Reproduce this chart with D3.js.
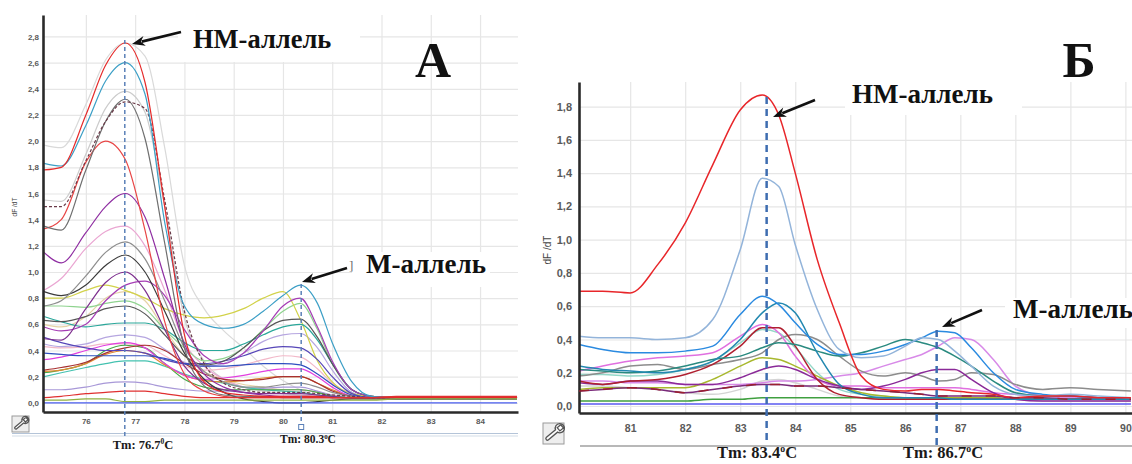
<!DOCTYPE html>
<html><head><meta charset="utf-8">
<script src="https://cdn.jsdelivr.net/npm/d3@7"></script>
<style>body{margin:0;background:#fff;} svg{display:block;}</style>
</head><body><svg id="c" width="1132" height="464"></svg>
<script>
// ---------------- DATA ----------------
// Panel A (temperature grid, °C)
const tempA = [75.15, 75.5, 76.0, 76.4, 76.8, 77.2, 77.6, 78.0, 78.4, 78.8, 79.2, 79.6, 80.0, 80.35, 80.7, 81.0, 81.4, 81.8, 82.3, 83.0, 84.0, 84.75];
const curvesA = [
  [1.97,1.95,2.28,2.62,2.75,2.65,1.95,1.05,0.72,0.55,0.42,0.28,0.17,0.10,0.06,0.05,0.04,0.04,0.03,0.03,0.04,0.04],
  [1.55,1.54,1.90,2.25,2.38,2.22,1.50,0.65,0.32,0.18,0.12,0.09,0.07,0.06,0.05,0.05,0.04,0.04,0.04,0.03,0.04,0.03],
  [0.60,0.58,0.66,0.80,0.85,0.78,0.56,0.36,0.24,0.18,0.14,0.12,0.10,0.10,0.08,0.06,0.04,0.04,0.04,0.04,0.04,0.04],
  [0.43,0.42,0.43,0.45,0.45,0.44,0.36,0.28,0.25,0.26,0.29,0.33,0.36,0.35,0.26,0.15,0.06,0.04,0.04,0.04,0.04,0.04],
  [0.86,0.95,1.18,1.31,1.35,1.20,0.86,0.46,0.28,0.18,0.12,0.10,0.10,0.10,0.08,0.06,0.05,0.04,0.04,0.04,0.04,0.04],
  [0.74,0.74,0.73,0.76,0.78,0.72,0.56,0.42,0.32,0.34,0.42,0.56,0.70,0.76,0.56,0.30,0.10,0.05,0.04,0.04,0.04,0.04],
  [0.45,0.43,0.45,0.50,0.52,0.50,0.41,0.31,0.28,0.30,0.38,0.47,0.52,0.53,0.42,0.25,0.08,0.04,0.04,0.04,0.04,0.04],
  [0.10,0.10,0.12,0.15,0.16,0.15,0.12,0.10,0.09,0.09,0.10,0.11,0.12,0.12,0.09,0.06,0.04,0.04,0.03,0.03,0.03,0.03],
  [0.80,0.80,0.86,0.90,0.86,0.80,0.72,0.67,0.65,0.67,0.72,0.80,0.85,0.64,0.32,0.16,0.07,0.05,0.04,0.04,0.04,0.04],
  [0.20,0.23,0.27,0.30,0.32,0.32,0.28,0.22,0.18,0.15,0.12,0.10,0.09,0.08,0.06,0.05,0.04,0.04,0.04,0.04,0.04,0.04],
  [0.66,0.62,0.58,0.60,0.61,0.61,0.56,0.46,0.40,0.40,0.45,0.52,0.58,0.60,0.48,0.30,0.10,0.05,0.04,0.04,0.04,0.04],
  [0.23,0.25,0.30,0.40,0.44,0.42,0.30,0.18,0.12,0.10,0.10,0.10,0.10,0.10,0.08,0.05,0.04,0.04,0.04,0.04,0.04,0.04],
  [0.24,0.25,0.30,0.37,0.40,0.38,0.29,0.21,0.17,0.16,0.17,0.19,0.20,0.20,0.15,0.10,0.05,0.04,0.04,0.04,0.04,0.04],
  [0.33,0.35,0.40,0.44,0.46,0.42,0.30,0.21,0.18,0.19,0.21,0.24,0.26,0.26,0.20,0.12,0.05,0.04,0.04,0.04,0.04,0.04],
  [0.25,0.27,0.31,0.38,0.42,0.44,0.40,0.30,0.22,0.18,0.17,0.18,0.20,0.20,0.15,0.09,0.05,0.04,0.04,0.04,0.04,0.04],
  [0.50,0.46,0.42,0.40,0.40,0.38,0.33,0.30,0.30,0.32,0.36,0.41,0.43,0.42,0.33,0.20,0.07,0.04,0.04,0.04,0.04,0.04],
  [0.38,0.37,0.36,0.36,0.36,0.36,0.34,0.30,0.28,0.28,0.29,0.30,0.30,0.29,0.22,0.14,0.06,0.04,0.03,0.03,0.03,0.03],
  [0.63,0.62,0.66,0.72,0.74,0.68,0.52,0.36,0.29,0.32,0.42,0.55,0.63,0.64,0.50,0.30,0.10,0.05,0.04,0.04,0.04,0.04],
  [0.58,0.55,0.60,0.78,0.90,0.93,0.82,0.56,0.36,0.30,0.38,0.55,0.74,0.80,0.58,0.32,0.10,0.05,0.04,0.04,0.04,0.04],
  [0.49,0.48,0.72,0.92,1.00,0.86,0.56,0.28,0.15,0.10,0.08,0.07,0.07,0.07,0.06,0.05,0.04,0.04,0.04,0.04,0.04,0.04],
  [0.85,0.82,0.90,1.05,1.13,1.00,0.70,0.38,0.18,0.08,0.03,0.01,0.00,0.00,0.01,0.02,0.03,0.03,0.03,0.03,0.03,0.03],
  [0.74,0.78,0.97,1.15,1.23,1.10,0.78,0.42,0.24,0.16,0.12,0.12,0.14,0.15,0.12,0.08,0.05,0.04,0.04,0.03,0.03,0.03],
  [1.15,1.07,1.30,1.50,1.60,1.42,0.95,0.45,0.22,0.12,0.08,0.06,0.05,0.05,0.05,0.04,0.04,0.04,0.04,0.04,0.04,0.04],
  [1.33,1.40,1.84,2.00,1.86,1.32,0.62,0.22,0.09,0.05,0.04,0.04,0.04,0.04,0.04,0.04,0.04,0.04,0.04,0.04,0.04,0.04],
  [1.35,1.32,1.78,2.15,2.32,2.02,1.22,0.42,0.13,0.06,0.05,0.05,0.04,0.04,0.04,0.04,0.04,0.04,0.03,0.03,0.03,0.03],
  [1.50,1.50,1.85,2.15,2.30,2.25,1.55,0.70,0.30,0.15,0.10,0.08,0.08,0.08,0.07,0.06,0.05,0.04,0.04,0.04,0.04,0.04],
  [1.83,1.81,2.12,2.46,2.60,2.36,1.38,0.74,0.60,0.57,0.60,0.70,0.82,0.90,0.76,0.46,0.16,0.05,0.04,0.04,0.04,0.04],
  [1.78,1.80,2.20,2.58,2.75,2.45,1.50,0.52,0.16,0.08,0.06,0.05,0.05,0.05,0.05,0.04,0.04,0.04,0.04,0.04,0.04,0.04],
  [0.04,0.05,0.07,0.08,0.09,0.09,0.07,0.05,0.04,0.04,0.04,0.04,0.04,0.04,0.04,0.04,0.04,0.04,0.05,0.05,0.05,0.05],
  [0.02,0.02,0.03,0.03,0.01,0.01,0.02,0.02,0.02,0.02,0.02,0.02,0.02,0.02,0.02,0.02,0.02,0.02,0.03,0.03,0.03,0.03],
  [0.00,0.00,0.00,0.00,0.00,0.00,0.00,0.00,0.00,0.00,0.00,0.00,0.00,0.00,0.00,0.00,0.00,0.00,0.00,0.00,0.00,0.00]
];
const colorsA = ["#d9d9d9","#cccccc","#e6d2a6","#f2b8c8","#eaa6d2","#8fd38f","#b6a6e0","#a898d8","#d2d24a","#44c2b0","#2aa79a","#45a845","#e08a30","#e23fe0","#a83030","#5646b8","#2f4fc0","#555555","#a53cb5","#7d2f8e","#3a3a3a","#8e8e8e","#8f2ea2","#e84545","#6f6f6f","#6a3a48","#3c9fc6","#e52a2a","#e03030","#90b040","#4a5ef0"];
const xTicksA = [76, 77, 78, 79, 80, 81, 82, 83, 84];
const yTicksA = [0, 0.2, 0.4, 0.6, 0.8, 1.0, 1.2, 1.4, 1.6, 1.8, 2.0, 2.2, 2.4, 2.6, 2.8];
const tmA = [76.79, 80.37];
const tmTextA = ["76.7", "80.3"];

// Panel B
const tempB = [80.07, 80.5, 81.0, 81.5, 82.0, 82.5, 83.0, 83.4, 83.7, 84.0, 84.4, 84.8, 85.2, 85.6, 86.0, 86.3, 86.6, 86.9, 87.2, 87.6, 88.0, 88.5, 89.0, 89.5, 90.1];
const curvesB = [
  [0.12,0.12,0.11,0.10,0.08,0.07,0.10,0.15,0.16,0.14,0.10,0.06,0.05,0.04,0.04,0.04,0.04,0.04,0.04,0.04,0.04,0.03,0.03,0.03,0.03],
  [0.19,0.19,0.18,0.19,0.22,0.27,0.38,0.46,0.44,0.35,0.20,0.10,0.07,0.06,0.05,0.05,0.05,0.05,0.05,0.04,0.04,0.04,0.04,0.04,0.04],
  [0.15,0.15,0.14,0.14,0.13,0.13,0.13,0.14,0.15,0.15,0.16,0.18,0.20,0.24,0.28,0.31,0.36,0.41,0.40,0.28,0.12,0.06,0.05,0.05,0.05],
  [0.03,0.03,0.03,0.03,0.03,0.04,0.04,0.05,0.05,0.05,0.05,0.05,0.05,0.05,0.05,0.05,0.05,0.05,0.05,0.05,0.04,0.04,0.04,0.04,0.04],
  [0.18,0.20,0.24,0.25,0.22,0.25,0.28,0.32,0.40,0.43,0.40,0.30,0.21,0.18,0.20,0.18,0.15,0.16,0.20,0.19,0.13,0.10,0.11,0.10,0.09],
  [0.10,0.11,0.11,0.11,0.11,0.16,0.24,0.29,0.28,0.24,0.18,0.12,0.08,0.06,0.05,0.05,0.05,0.05,0.05,0.05,0.04,0.04,0.04,0.04,0.04],
  [0.21,0.24,0.27,0.29,0.30,0.32,0.42,0.49,0.44,0.30,0.16,0.12,0.12,0.11,0.11,0.11,0.11,0.11,0.10,0.08,0.07,0.06,0.06,0.05,0.05],
  [0.14,0.13,0.15,0.15,0.13,0.13,0.17,0.22,0.24,0.22,0.16,0.12,0.10,0.12,0.16,0.20,0.22,0.22,0.16,0.08,0.04,0.03,0.03,0.03,0.03],
  [0.09,0.10,0.11,0.10,0.08,0.10,0.12,0.13,0.13,0.12,0.12,0.11,0.10,0.09,0.08,0.07,0.06,0.06,0.06,0.06,0.05,0.05,0.04,0.04,0.04],
  [0.15,0.13,0.15,0.16,0.19,0.25,0.36,0.47,0.47,0.36,0.16,0.07,0.05,0.04,0.04,0.04,0.04,0.04,0.04,0.04,0.04,0.04,0.04,0.04,0.04],
  [0.22,0.21,0.20,0.21,0.24,0.28,0.30,0.35,0.38,0.37,0.33,0.30,0.32,0.36,0.40,0.38,0.35,0.30,0.24,0.15,0.08,0.06,0.06,0.05,0.05],
  [0.24,0.22,0.21,0.20,0.22,0.27,0.40,0.56,0.62,0.56,0.32,0.13,0.07,0.05,0.05,0.05,0.05,0.04,0.04,0.04,0.04,0.04,0.04,0.04,0.04],
  [0.37,0.34,0.32,0.32,0.33,0.36,0.55,0.66,0.61,0.50,0.37,0.31,0.31,0.33,0.37,0.41,0.45,0.44,0.35,0.20,0.10,0.07,0.06,0.05,0.05],
  [0.42,0.41,0.41,0.40,0.41,0.52,0.94,1.37,1.32,0.97,0.58,0.34,0.29,0.30,0.36,0.41,0.40,0.33,0.24,0.12,0.07,0.06,0.07,0.06,0.05],
  [0.69,0.69,0.68,0.85,1.10,1.45,1.78,1.87,1.75,1.40,0.88,0.50,0.18,0.10,0.09,0.10,0.10,0.09,0.08,0.07,0.05,0.06,0.06,0.05,0.05],
  [0.012,0.012,0.012,0.012,0.012,0.012,0.012,0.012,0.012,0.012,0.012,0.012,0.012,0.012,0.012,0.012,0.012,0.012,0.012,0.012,0.012,0.012,0.012,0.012,0.012]
];
const colorsB = ["#d4d4d4","#94d8c8","#d88ae8","#40a040","#8c8c8c","#a8b82e","#e070e0","#8a2a98","#7a2a7a","#b02030","#2a8a80","#2288b0","#2a8ae0","#93b4da","#e8262a","#5a5af0"];
const xTicksB = [81, 82, 83, 84, 85, 86, 87, 88, 89, 90];
const yTicksB = [0, 0.2, 0.4, 0.6, 0.8, 1.0, 1.2, 1.4, 1.6, 1.8];
const tmB = [83.48, 86.57];
const tmTextB = ["83.4", "86.7"];

// ---------------- DRAW ----------------
const svg = d3.select("#c");
const fmt = d => d3.format(".1f")(d).replace(".", ",");
const serif = "'Liberation Serif','Times New Roman',serif";
const sans = "'Liberation Sans',Arial,sans-serif";

function panel(cfg) {
  const g = svg.append("g");
  const x = d3.scaleLinear().domain(cfg.xDom).range([cfg.left, cfg.right]);
  const y = d3.scaleLinear().domain(cfg.yDom).range([cfg.bottom, cfg.top]);
  const W = cfg.right - cfg.left, H = cfg.bottom - cfg.top;

  const gx = g.append("g").attr("transform", `translate(0,${cfg.bottom})`)
    .call(d3.axisBottom(x).tickValues(cfg.xTicks).tickSize(-H).tickFormat(""));
  const gy = g.append("g").attr("transform", `translate(${cfg.left},0)`)
    .call(d3.axisLeft(y).tickValues(cfg.yTicks).tickSize(-W).tickFormat(""));
  [gx, gy].forEach(a => { a.select(".domain").remove(); a.selectAll("line").attr("stroke", "#e6e6e6").attr("stroke-width", 1.2); });

  cfg.boxes.forEach(b => g.append("rect").attr("x", b[0]).attr("y", b[1]).attr("width", b[2]).attr("height", b[3]).attr("fill", "#fff"));

  const clipId = "clip" + cfg.id;
  svg.append("clipPath").attr("id", clipId).append("rect")
    .attr("x", cfg.left).attr("y", cfg.top).attr("width", W).attr("height", H);
  const line = d3.line().x((d, i) => x(cfg.temps[i])).y(d => y(d)).curve(d3.curveMonotoneX);
  const cg = g.append("g").attr("clip-path", `url(#${clipId})`);
  cfg.curves.forEach((c, i) => {
    cg.append("path").attr("d", line(c)).attr("fill", "none")
      .attr("stroke", cfg.colors[i]).attr("stroke-width", cfg.lw)
      .attr("stroke-dasharray", cfg.dashed.includes(i) ? "3,2" : null);
  });

  const ax = g.append("g").attr("transform", `translate(0,${cfg.bottom})`)
    .call(d3.axisBottom(x).tickValues(cfg.xTicks).tickSize(0).tickPadding(cfg.xPad).tickFormat(d3.format("d")));
  const ay = g.append("g").attr("transform", `translate(${cfg.left},0)`)
    .call(d3.axisLeft(y).tickValues(cfg.yTicks).tickSize(0).tickPadding(cfg.yPad).tickFormat(fmt));
  [ax, ay].forEach(a => {
    a.select(".domain").attr("stroke", "#2a2a2a").attr("stroke-width", 2.6);
    a.selectAll("text").attr("fill", "#5a5a5a").attr("font-family", sans).attr("font-weight", "bold");
  });
  ax.selectAll("text").attr("font-size", cfg.xFs);
  ay.selectAll("text").attr("font-size", cfg.yFs);

  g.append("text").attr("transform", `translate(${cfg.ylab[0]},${cfg.ylab[1]}) rotate(-90)`)
    .attr("text-anchor", "middle").attr("font-family", sans).attr("font-size", cfg.ylab[2])
    .attr("fill", "#444").text("dF /dT");

  return { g, x, y };
}

function wrench(g, x0, y0, w, h) {
  g.append("rect").attr("x", x0).attr("y", y0).attr("width", w).attr("height", h)
    .attr("fill", "#eeeeee").attr("stroke", "#9a9a9a").attr("stroke-width", 1);
  const cx = x0 + w / 2, cy = y0 + h / 2, s = Math.min(w, h) / 16;
  g.append("path").attr("transform", `translate(${cx},${cy}) scale(${s}) rotate(-40)`)
    .attr("d", "M-6,-1.2 L3,-1.2 A3.5,3.5 0 1 1 3,1.2 L-6,1.2 A1.2,1.2 0 0 1 -6,-1.2 Z M5,-1.6 L8.5,-1.6 L8.5,1.6 L5,1.6 Z")
    .attr("fill", "#fff").attr("stroke", "#555").attr("stroke-width", 1.1 / s * 1.2);
}

function arrow(g, x1, y1, x2, y2, w) {
  const ang = Math.atan2(y2 - y1, x2 - x1), L = 13, Wd = 5;
  const bx = x2 - L * Math.cos(ang), by = y2 - L * Math.sin(ang);
  g.append("line").attr("x1", x1).attr("y1", y1).attr("x2", bx + 3 * Math.cos(ang)).attr("y2", by + 3 * Math.sin(ang))
    .attr("stroke", "#111").attr("stroke-width", w);
  const px = -Math.sin(ang) * Wd, py = Math.cos(ang) * Wd;
  g.append("path").attr("d", `M${x2},${y2} L${bx + px},${by + py} L${bx + L * 0.3 * Math.cos(ang)},${by + L * 0.3 * Math.sin(ang)} L${bx - px},${by - py} Z`)
    .attr("fill", "#111");
}

function bigText(g, x, y, txt, fs, anchor) {
  g.append("text").attr("x", x).attr("y", y).attr("font-family", serif).attr("font-weight", "bold")
    .attr("font-size", fs).attr("fill", "#111").attr("text-anchor", anchor || "start").text(txt);
}

function tmLabel(g, x, y, num, fs, supChar) {
  const t = g.append("text").attr("x", x).attr("y", y).attr("text-anchor", "middle")
    .attr("font-family", serif).attr("font-weight", "bold").attr("font-size", fs).attr("fill", "#1a1a1a");
  t.append("tspan").text("Tm: " + num);
  t.append("tspan").attr("font-size", fs * 0.6).attr("dy", -fs * 0.38).text(supChar);
  t.append("tspan").attr("dy", fs * 0.38).text("C");
}

// ---- Panel A ----
const A = panel({
  id: "A", xDom: [75.13, 84.77], yDom: [-0.07, 2.964], left: 43, right: 518, top: 15, bottom: 412,
  xTicks: xTicksA, yTicks: yTicksA, temps: tempA, curves: curvesA, colors: colorsA, lw: 1.2, dashed: [25],
  xPad: 6, yPad: 4, xFs: 8, yFs: 8, ylab: [17, 207, 6.5],
  boxes: [[178, 15, 182, 47], [352, 252, 138, 35]]
});
A.g.append("line").attr("x1", 12).attr("x2", 518).attr("y1", 433.5).attr("y2", 433.5).attr("stroke", "#b4c4d8").attr("stroke-width", 1.2);
A.g.append("line").attr("x1", 12).attr("x2", 518).attr("y1", 436).attr("y2", 436).attr("stroke", "#d4dde8").attr("stroke-width", 1.2);
wrench(A.g, 12, 416, 17, 16);
A.g.append("line").attr("x1", A.x(tmA[0])).attr("x2", A.x(tmA[0])).attr("y1", 40).attr("y2", 438)
  .attr("stroke", "#5b80b8").attr("stroke-width", 1.5).attr("stroke-dasharray", "4,3");
A.g.append("line").attr("x1", A.x(tmA[1])).attr("x2", A.x(tmA[1])).attr("y1", 284).attr("y2", 425)
  .attr("stroke", "#5b80b8").attr("stroke-width", 1.5).attr("stroke-dasharray", "4,3");
A.g.append("rect").attr("x", A.x(tmA[1]) - 2.5).attr("y", 424.5).attr("width", 5).attr("height", 5)
  .attr("fill", "#fff").attr("stroke", "#5b80b8").attr("stroke-width", 1);
tmLabel(A.g, 143, 449, tmTextA[0], 12.5, "0");
tmLabel(A.g, 308, 443, tmTextA[1], 11.5, "0");
bigText(A.g, 193, 48, "НМ-аллель", 26.5);
bigText(A.g, 366, 273, "М-аллель", 27);
A.g.append("text").attr("x", 349).attr("y", 270).attr("font-family", serif).attr("font-size", 13).attr("fill", "#666").text("]");
bigText(A.g, 433, 77, "А", 50, "middle");
arrow(A.g, 181, 32, 132, 44, 2.6);
arrow(A.g, 347, 268, 302, 282, 2.6);

// ---- Panel B ----
const B = panel({
  id: "B", xDom: [80.07, 90.12], yDom: [-0.042, 1.948], left: 579, right: 1132, top: 82, bottom: 413,
  xTicks: xTicksB, yTicks: yTicksB, temps: tempB, curves: curvesB, colors: colorsB, lw: 1.5, dashed: [],
  xPad: 12, yPad: 7, xFs: 10.5, yFs: 11, ylab: [551, 250, 10],
  boxes: [[845, 80, 177, 35], [1005, 298, 127, 30]]
});
{
  const line = d3.line().x((d, i) => B.x(tempB[i])).y(d => B.y(d)).curve(d3.curveMonotoneX);
  B.g.append("path").attr("d", line(curvesB[8])).attr("fill", "none").attr("stroke", "#9a2030")
    .attr("stroke-width", 1.5).attr("stroke-dasharray", "10,14").attr("clip-path", "url(#clipB)");
}
B.g.append("line").attr("x1", 580).attr("x2", 1132).attr("y1", 446).attr("y2", 446).attr("stroke", "#b8b8b8").attr("stroke-width", 2);
wrench(B.g, 543, 423, 21, 21);
B.g.append("line").attr("x1", B.x(tmB[0])).attr("x2", B.x(tmB[0])).attr("y1", 97).attr("y2", 444)
  .attr("stroke", "#3e6db0").attr("stroke-width", 2.5).attr("stroke-dasharray", "7,5");
B.g.append("line").attr("x1", B.x(tmB[1])).attr("x2", B.x(tmB[1])).attr("y1", 330).attr("y2", 446)
  .attr("stroke", "#3e6db0").attr("stroke-width", 2.5).attr("stroke-dasharray", "7,5");
tmLabel(B.g, 757, 458, tmTextB[0], 16.5, "o");
tmLabel(B.g, 943, 458, tmTextB[1], 16.5, "o");
bigText(B.g, 852, 103, "НМ-аллель", 27);
bigText(B.g, 1013, 318, "М-аллель", 27);
bigText(B.g, 1079, 77, "Б", 50, "middle");
arrow(B.g, 815, 100, 773, 117, 2.6);
arrow(B.g, 982, 310, 942, 327, 2.6);
</script></body></html>
